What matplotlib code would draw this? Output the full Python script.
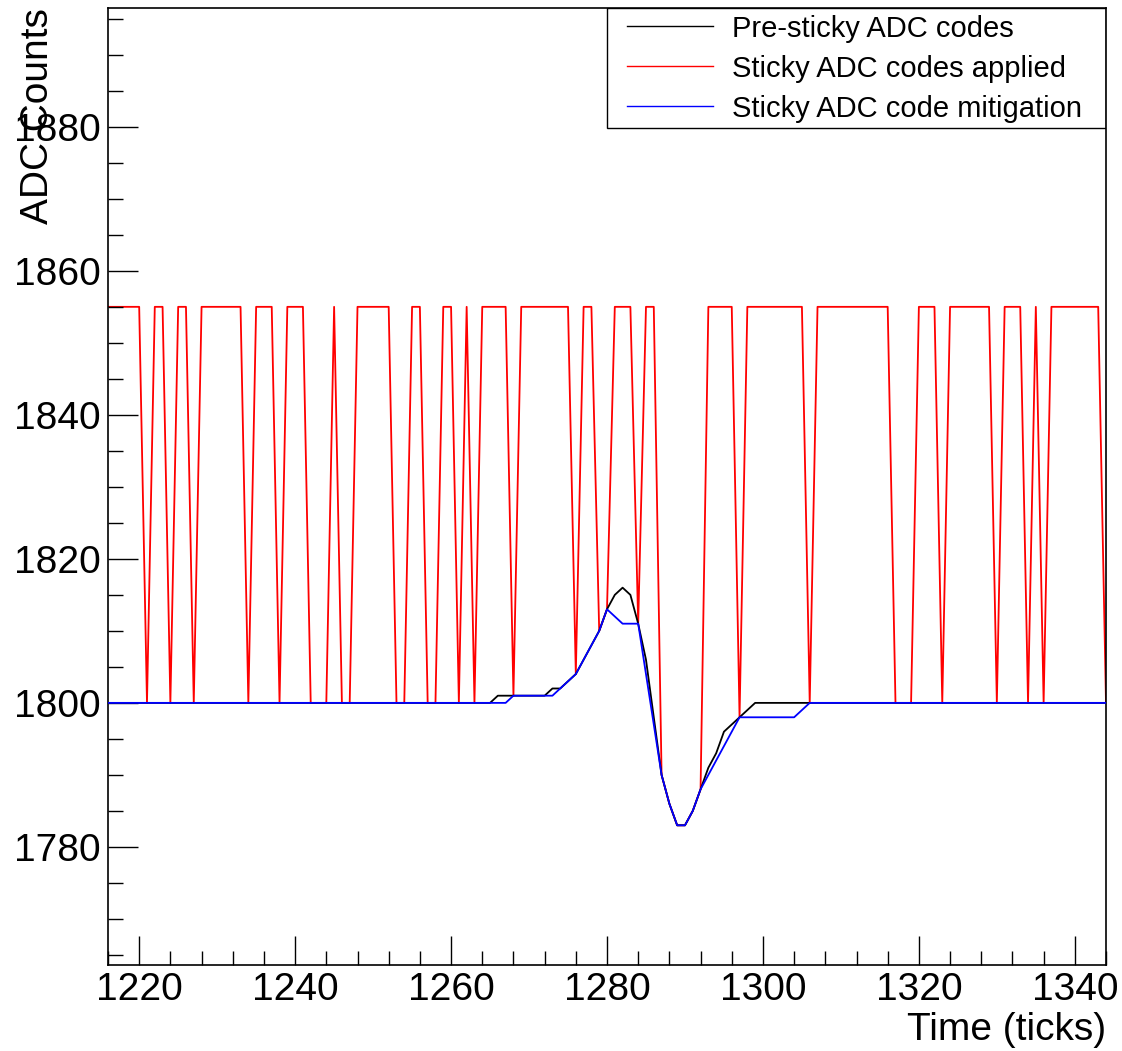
import matplotlib
matplotlib.use('Agg')
import matplotlib.pyplot as plt
from matplotlib.patches import Rectangle
from matplotlib.ticker import MultipleLocator

plt.rcParams['font.family'] = ['Liberation Sans', 'DejaVu Sans']

# sample ticks 1216 .. 1344
ticks = list(range(1216, 1345))

# pre-sticky waveform (rows of 10 ticks, starting at 1216)
pre_sticky = [
	1800, 1800, 1800, 1800, 1800, 1800, 1800, 1800, 1800, 1800,
	1800, 1800, 1800, 1800, 1800, 1800, 1800, 1800, 1800, 1800,
	1800, 1800, 1800, 1800, 1800, 1800, 1800, 1800, 1800, 1800,
	1800, 1800, 1800, 1800, 1800, 1800, 1800, 1800, 1800, 1800,
	1800, 1800, 1800, 1800, 1800, 1800, 1800, 1800, 1800, 1800,
	1801, 1801, 1801, 1801, 1801, 1801, 1801, 1802, 1802, 1803,
	1804, 1806, 1808, 1810, 1813, 1815, 1816, 1815, 1811, 1806,
	1798, 1790, 1786, 1783, 1783, 1785, 1788, 1791, 1793, 1796,
	1797, 1798, 1799, 1800, 1800, 1800, 1800, 1800, 1800, 1800,
	1800, 1800, 1800, 1800, 1800, 1800, 1800, 1800, 1800, 1800,
	1800, 1800, 1800, 1800, 1800, 1800, 1800, 1800, 1800, 1800,
	1800, 1800, 1800, 1800, 1800, 1800, 1800, 1800, 1800, 1800,
	1800, 1800, 1800, 1800, 1800, 1800, 1800, 1800, 1800,
]

# with sticky codes applied (1855 = stuck code)
sticky_applied = [
	1855, 1855, 1855, 1855, 1855, 1800, 1855, 1855, 1800, 1855,
	1855, 1800, 1855, 1855, 1855, 1855, 1855, 1855, 1800, 1855,
	1855, 1855, 1800, 1855, 1855, 1855, 1800, 1800, 1800, 1855,
	1800, 1800, 1855, 1855, 1855, 1855, 1855, 1800, 1800, 1855,
	1855, 1800, 1800, 1855, 1855, 1800, 1855, 1800, 1855, 1855,
	1855, 1855, 1801, 1855, 1855, 1855, 1855, 1855, 1855, 1855,
	1804, 1855, 1855, 1810, 1813, 1855, 1855, 1855, 1811, 1855,
	1855, 1790, 1786, 1783, 1783, 1785, 1788, 1855, 1855, 1855,
	1855, 1798, 1855, 1855, 1855, 1855, 1855, 1855, 1855, 1855,
	1800, 1855, 1855, 1855, 1855, 1855, 1855, 1855, 1855, 1855,
	1855, 1800, 1800, 1800, 1855, 1855, 1855, 1800, 1855, 1855,
	1855, 1855, 1855, 1855, 1800, 1855, 1855, 1855, 1800, 1855,
	1800, 1855, 1855, 1855, 1855, 1855, 1855, 1855, 1800,
]

# after mitigation
mitigated = [
	1800, 1800, 1800, 1800, 1800, 1800, 1800, 1800, 1800, 1800,
	1800, 1800, 1800, 1800, 1800, 1800, 1800, 1800, 1800, 1800,
	1800, 1800, 1800, 1800, 1800, 1800, 1800, 1800, 1800, 1800,
	1800, 1800, 1800, 1800, 1800, 1800, 1800, 1800, 1800, 1800,
	1800, 1800, 1800, 1800, 1800, 1800, 1800, 1800, 1800, 1800,
	1800, 1800, 1801, 1801, 1801, 1801, 1801, 1801, 1802, 1803,
	1804, 1806, 1808, 1810, 1813, 1812, 1811, 1811, 1811, 1804,
	1797, 1790, 1786, 1783, 1783, 1785, 1788, 1790, 1792, 1794,
	1796, 1798, 1798, 1798, 1798, 1798, 1798, 1798, 1798, 1799,
	1800, 1800, 1800, 1800, 1800, 1800, 1800, 1800, 1800, 1800,
	1800, 1800, 1800, 1800, 1800, 1800, 1800, 1800, 1800, 1800,
	1800, 1800, 1800, 1800, 1800, 1800, 1800, 1800, 1800, 1800,
	1800, 1800, 1800, 1800, 1800, 1800, 1800, 1800, 1800,
]

labels = ['Pre-sticky ADC codes', 'Sticky ADC codes applied', 'Sticky ADC code mitigation']

fig = plt.figure(figsize=(11.22, 10.51), dpi=100)
ax = fig.add_axes([108/1122, 86/1051, 998/1122, 957/1051])

ax.plot(ticks, pre_sticky, color='black', lw=1.3, zorder=2, label=labels[0])
ax.plot(ticks, sticky_applied, color='#ff0000', lw=1.3, zorder=1, label=labels[1])
ax.plot(ticks, mitigated, color='#0000ff', lw=1.3, zorder=3, label=labels[2])

ax.set_xlim(1216, 1344)
ax.set_ylim(1763.6, 1896.5)

ax.xaxis.set_major_locator(MultipleLocator(20))
ax.xaxis.set_minor_locator(MultipleLocator(4))
ax.yaxis.set_major_locator(MultipleLocator(20))
ax.yaxis.set_minor_locator(MultipleLocator(5))
ax.tick_params(axis='both', which='both', direction='in', width=1.0,
	top=False, right=False, labelsize=28)
ax.tick_params(axis='x', which='major', length=20.7, pad=5)
ax.tick_params(axis='x', which='minor', length=10.3)
ax.tick_params(axis='y', which='major', length=21.6, pad=5.5)
ax.tick_params(axis='y', which='minor', length=10.8)
for s in ax.spines.values():
	s.set_linewidth(1.2)

fig.text(1106/1122, 1 - 1040/1051, 'Time (ticks)', ha='right', va='baseline', fontsize=28)
fig.text(38/1122, 1 - 8/1051, 'ADC Counts', rotation=90, ha='center', va='top', fontsize=28)

# legend box like ROOT TLegend
ax.add_patch(Rectangle((0.5, 1 - 120/957), 0.5, 120/957, transform=ax.transAxes,
	fill=False, ec='black', lw=1.0, zorder=5))
leg = ax.legend(loc='upper left', bbox_to_anchor=(0.52, 0.993), frameon=False,
	fontsize=21, handlelength=2.95, handletextpad=0.65, labelspacing=0.41,
	borderpad=0, borderaxespad=0)
for h in leg.get_lines():
	h.set_linewidth(1.0)

plt.savefig('out.png', dpi=100)
